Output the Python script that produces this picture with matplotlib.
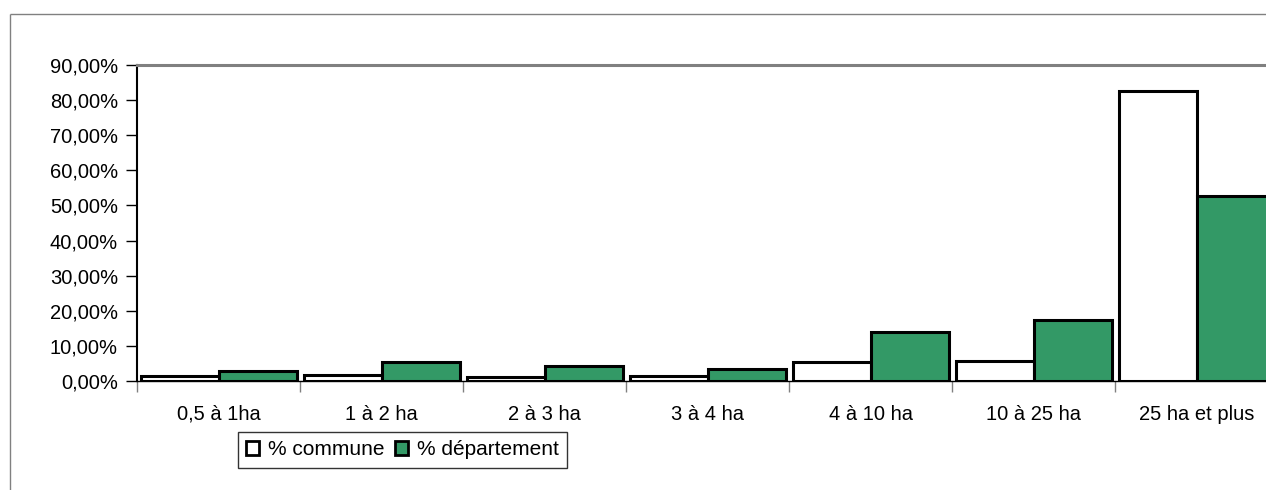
import numpy as np
import matplotlib
matplotlib.use("Agg")
import matplotlib.pyplot as plt
from matplotlib.lines import Line2D
from matplotlib.patches import Patch
from matplotlib.ticker import FuncFormatter

# Data
categories = ["0,5 à 1ha", "1 à 2 ha", "2 à 3 ha", "3 à 4 ha",
              "4 à 10 ha", "10 à 25 ha", "25 ha et plus"]
pct_commune = [1.4, 1.7, 1.0, 1.5, 5.5, 5.8, 82.7]
pct_departement = [2.8, 5.4, 4.3, 3.4, 13.9, 17.3, 52.8]
series_names = ["% commune", "% département"]
y_ticks = np.arange(0, 91, 10)

plt.rcParams['font.family'] = ['Liberation Sans', 'DejaVu Sans']

W, H = 1266, 490
fig = plt.figure(figsize=(W / 100, H / 100), dpi=100)
fig.patch.set_linewidth(0)

# plot area (pixel geometry)
left, right, top, bottom = 137.3, 137.3 + 7 * 163, 65, 381
ax = fig.add_axes([left / W, 1 - bottom / H, (right - left) / W, (bottom - top) / H])

# outer chart frame (only top and left edges are inside the picture)
fx, fy = 9.5 / W, 1 - 14.5 / H
fig.add_artist(Line2D([fx, 1.05], [fy, fy], transform=fig.transFigure,
                      color='#808080', linewidth=1.0, solid_capstyle='butt'))
fig.add_artist(Line2D([fx, fx], [-0.05, fy], transform=fig.transFigure,
                      color='#808080', linewidth=1.0, solid_capstyle='butt'))

x = np.arange(len(categories))
w = 0.478
green = '#339966'
ax.bar(x - w / 2, pct_commune, w, color='white', edgecolor='black', linewidth=2.2,
       label=series_names[0], zorder=3)
ax.bar(x + w / 2, pct_departement, w, color=green, edgecolor='black', linewidth=2.2,
       label=series_names[1], zorder=3)

ax.set_xlim(-0.5, len(categories) - 0.5)
ax.set_ylim(0, 90)

ax.set_yticks(y_ticks)
ax.yaxis.set_major_formatter(FuncFormatter(lambda v, p: f"{v:.2f}%".replace('.', ',')))
ax.tick_params(axis='y', direction='out', length=8, width=1, color='black',
               labelsize=14.5, pad=6)

# group separators as major ticks, labels on minor ticks
ax.set_xticks(np.arange(len(categories) + 1) - 0.5)
ax.set_xticklabels([])
ax.set_xticks(x, minor=True)
ax.set_xticklabels(categories, minor=True)
ax.tick_params(axis='x', which='major', direction='out', length=8, width=1, color='#808080')
ax.tick_params(axis='x', which='minor', length=0, labelsize=14.5, pad=17)

ax.spines['top'].set_color('#808080')
ax.spines['top'].set_linewidth(2.2)
ax.spines['left'].set_color('black')
ax.spines['left'].set_linewidth(1.5)
ax.spines['bottom'].set_color('black')
ax.spines['bottom'].set_linewidth(1.0)
ax.spines['right'].set_visible(False)

handles = [Patch(facecolor='white', edgecolor='black', linewidth=2),
           Patch(facecolor=green, edgecolor='black', linewidth=2)]
leg = fig.legend(handles, series_names, loc='upper left',
                 bbox_to_anchor=(238 / W, 1 - 432 / H), ncol=2,
                 fontsize=15, frameon=True, fancybox=False, shadow=False,
                 handlelength=0.6, handleheight=0.6, handletextpad=0.45,
                 columnspacing=0.5, borderpad=0.4, borderaxespad=0)
leg.get_frame().set_edgecolor('black')
leg.get_frame().set_linewidth(1.0)

fig.savefig("out.png", dpi=100)
